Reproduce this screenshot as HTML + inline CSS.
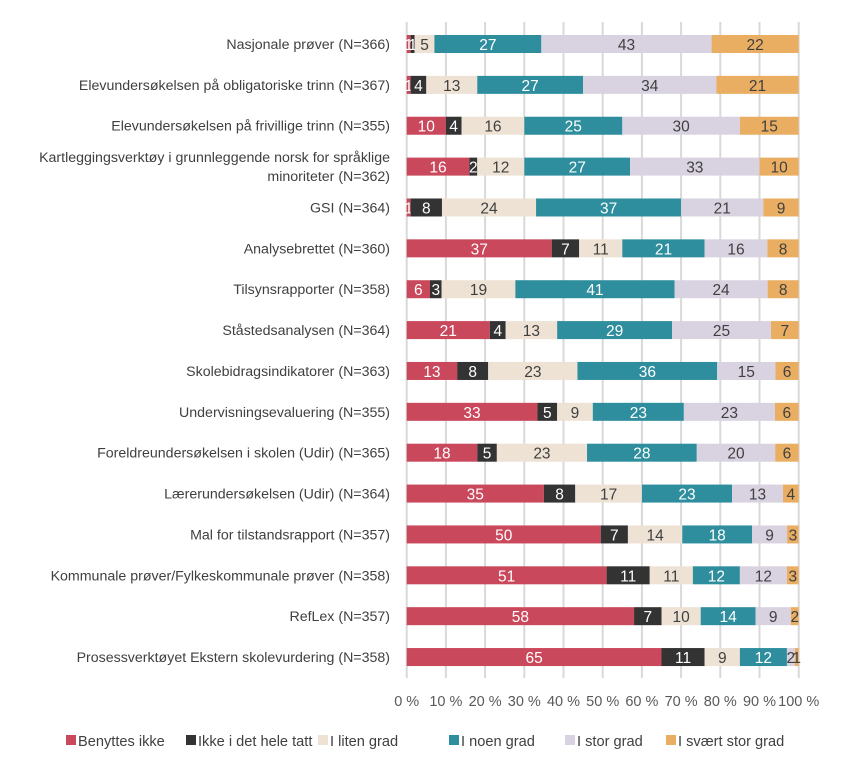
<!DOCTYPE html>
<html><head><meta charset="utf-8"><style>
body{margin:0;background:#fff;font-family:"Liberation Sans",sans-serif}
svg text{font-family:"Liberation Sans",sans-serif}
</style></head><body>
<svg id="c" width="844" height="770"></svg>
<script>
const categories=["Nasjonale prøver (N=366)","Elevundersøkelsen på obligatoriske trinn (N=367)","Elevundersøkelsen på frivillige trinn (N=355)","Kartleggingsverktøy i grunnleggende norsk for språklige|minoriteter (N=362)","GSI (N=364)","Analysebrettet (N=360)","Tilsynsrapporter (N=358)","Ståstedsanalysen (N=364)","Skolebidragsindikatorer (N=363)","Undervisningsevaluering (N=355)","Foreldreundersøkelsen i skolen (Udir) (N=365)","Lærerundersøkelsen (Udir) (N=364)","Mal for tilstandsrapport (N=357)","Kommunale prøver/Fylkeskommunale prøver (N=358)","RefLex (N=357)","Prosessverktøyet Ekstern skolevurdering (N=358)"];
const seriesNames=["Benyttes ikke","Ikke i det hele tatt","I liten grad","I noen grad","I stor grad","I svært stor grad"];
const benyttesIkke=[1,1,10,16,1,37,6,21,13,33,18,35,50,51,58,65];
const ikkeIDetHeleTatt=[1,4,4,2,8,7,3,4,8,5,5,8,7,11,7,11];
const iLitenGrad=[5,13,16,12,24,11,19,13,23,9,23,17,14,11,10,9];
const iNoenGrad=[27,27,25,27,37,21,41,29,36,23,28,23,18,12,14,12];
const iStorGrad=[43,34,30,33,21,16,24,25,15,23,20,13,9,12,9,2];
const iSvaertStorGrad=[22,21,15,10,9,8,8,7,6,6,6,4,3,3,2,1];
const ticks=["0 %","10 %","20 %","30 %","40 %","50 %","60 %","70 %","80 %","90 %","100 %"];
const series=[benyttesIkke,ikkeIDetHeleTatt,iLitenGrad,iNoenGrad,iStorGrad,iSvaertStorGrad];
const colors=["#C9485B","#333333","#EDE2D4","#2E8E9E","#D9D2E0","#E9AE62"];
const textCol=["#fff","#fff","#404040","#fff","#404040","#404040"];
const NS="http://www.w3.org/2000/svg";
const svg=document.getElementById('c');
const x0=406.7,x1=798.7,y0=44,dy=40.87,bh=18;
const xs=p=>x0+(x1-x0)*p/100;
const ys=i=>y0+dy*i;
function mk(t,a,p){const e=document.createElementNS(NS,t);for(const k in a)e.setAttribute(k,a[k]);(p||svg).appendChild(e);return e;}
ticks.forEach((t,i)=>{
 const l=mk('line',{x1:xs(i*10),x2:xs(i*10),y1:22,y2:678,stroke:'#d9d9d9','stroke-width':2});
 
 
 const tx=mk('text',{x:xs(i*10),y:706,'text-anchor':'middle','font-size':14.5,fill:'#595959'});
 tx.textContent=t;
 
 
});
categories.forEach((c,i)=>{
 const y=ys(i);
 const parts=c.split('|');
 parts.forEach((p,j)=>{
  const t=mk('text',{x:390,y:y+5+(j-(parts.length-1)/2)*19,'text-anchor':'end','font-size':14.2,fill:'#404040'});
  t.textContent=p;
  
  
 });
 let tot=0;series.forEach(s=>tot+=s[i]);
 let acc=0;
 series.forEach((s,k)=>{
  const v=s[i];const a=xs(acc/tot*100),b=xs((acc+v)/tot*100);acc+=v;
  const r=mk('rect',{x:a,y:y-bh/2,width:b-a,height:bh,fill:colors[k]});
  
  
  const t=mk('text',{x:(a+b)/2,y:y+6,'text-anchor':'middle','font-size':15.5,fill:textCol[k]});
  t.textContent=v;
  
  
 });
});
const lx=[66,186,318,449,565,666];
seriesNames.forEach((n,k)=>{
 const r=mk('rect',{x:lx[k],y:735,width:10,height:10,fill:colors[k]});
 
 
 const t=mk('text',{x:lx[k]+12,y:746,'font-size':14.6,fill:'#404040'});
 t.textContent=n;
 
 
});
</script>
</body></html>
